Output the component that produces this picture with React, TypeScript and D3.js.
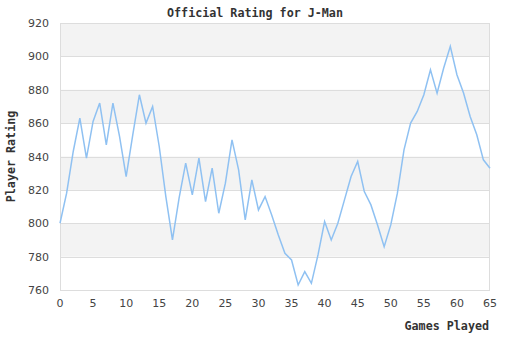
import React from "react";
import * as d3 from "d3";

const games: number[] = Array.from({ length: 66 }, (_, i) => i);
const ratings: number[] = [
  800, 818, 843, 863, 839, 861, 872, 847, 872, 852,
  828, 853, 877, 860, 870, 846, 816, 790, 815, 836,
  817, 839, 813, 833, 806, 824, 850, 832, 802, 826,
  808, 816, 805, 793, 782, 778, 763, 771, 764, 781,
  801, 790, 800, 814, 828, 837, 819, 811, 799, 786,
  799, 818, 844, 860, 867, 877, 892, 878, 893, 906,
  889, 878, 864, 853, 838, 833,
];
const xTicks: number[] = [0, 5, 10, 15, 20, 25, 30, 35, 40, 45, 50, 55, 60, 65];
const yTicks: number[] = [760, 780, 800, 820, 840, 860, 880, 900, 920];

const W = 510;
const H = 340;
const left = 60;
const right = 490;
const top = 23;
const bottom = 290;

export default function App() {
  const x = d3.scaleLinear().domain([0, 65]).range([left, right]);
  const y = d3.scaleLinear().domain([760, 920]).range([bottom, top]);
  const line = d3
    .line<number>()
    .x((_, i) => x(games[i]))
    .y((d) => y(d));
  const bands = yTicks.slice(0, -1).map((v, i) => ({ lo: v, hi: yTicks[i + 1], shade: i % 2 === 1 }));
  const mono = "'DejaVu Sans Mono', monospace";
  const sans = "'DejaVu Sans', sans-serif";
  return (
    <svg width={W} height={H} style={{ position: "absolute", left: 0, top: 0 }}>
      <rect x={0} y={0} width={W} height={H} fill="#fff" />
      <text x={255} y={17} textAnchor="middle" fontFamily={mono} fontWeight="bold" fontSize={11.7} fill="#333">
        Official Rating for J-Man
      </text>
      {bands.map((b, i) =>
        b.shade ? (
          <rect key={i} x={left} y={y(b.hi)} width={right - left} height={y(b.lo) - y(b.hi)} fill="#f3f3f3" />
        ) : null
      )}
      {yTicks.map((v) => (
        <line key={v} x1={left} x2={right} y1={Math.round(y(v)) + 0.5} y2={Math.round(y(v)) + 0.5} stroke="#dddddd" />
      ))}
      <rect x={left + 0.5} y={top + 0.5} width={right - left - 1} height={bottom - top} fill="none" stroke="#dddddd" />
      <path d={line(ratings) || ""} fill="none" stroke="#8fc1f2" strokeWidth={1.5} />
      {yTicks.map((v) => (
        <text key={v} x={49} y={y(v) + 4} textAnchor="end" fontFamily={sans} fontSize={11} fill="#444">
          {v}
        </text>
      ))}
      {xTicks.map((v) => (
        <text key={v} x={x(v)} y={307} textAnchor="middle" fontFamily={sans} fontSize={11} fill="#444">
          {v}
        </text>
      ))}
      <text
        transform={`translate(15,${(top + bottom) / 2}) rotate(-90)`}
        textAnchor="middle"
        fontFamily={mono}
        fontWeight="bold"
        fontSize={11.7}
        fill="#333"
      >
        Player Rating
      </text>
      <text x={489} y={330} textAnchor="end" fontFamily={mono} fontWeight="bold" fontSize={11.7} fill="#333">
        Games Played
      </text>
    </svg>
  );
}
